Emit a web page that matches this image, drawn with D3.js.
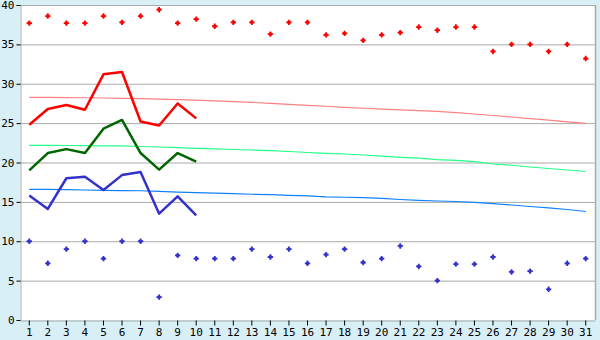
<!DOCTYPE html>
<html><head><meta charset="utf-8">
<script src="https://cdn.jsdelivr.net/npm/d3@7"></script>
<style>body{margin:0;background:#d9eff6;}svg{display:block;}</style>
</head><body>
<svg id="c" width="600" height="340"></svg>
<script>
const days = d3.range(1, 32);
const yTicks = [0, 5, 10, 15, 20, 25, 30, 35, 40];
const recordHigh = [37.7,38.6,37.7,37.7,38.6,37.8,38.6,39.4,37.7,38.2,37.3,37.8,37.8,36.3,37.8,37.8,36.2,36.4,35.5,36.2,36.5,37.2,36.8,37.2,37.2,34.1,35.0,35.0,34.1,35.0,33.2];
const recordLow = [10.0,7.2,9.0,10.0,7.8,10.0,10.0,2.9,8.2,7.8,7.8,7.8,9.0,8.0,9.0,7.2,8.3,9.0,7.3,7.8,9.4,6.8,5.0,7.1,7.1,8.0,6.1,6.2,3.9,7.2,7.8];
const dailyMax = [24.8,26.8,27.3,26.7,31.2,31.5,25.2,24.7,27.5,25.6];
const dailyMean = [19.0,21.2,21.7,21.2,24.3,25.4,21.2,19.1,21.2,20.1];
const dailyMin = [15.8,14.1,18.0,18.2,16.5,18.4,18.8,13.5,15.7,13.3];
const normalMax = [28.28,28.27,28.24,28.22,28.19,28.15,28.10,28.05,27.99,27.91,27.82,27.73,27.63,27.52,27.39,27.26,27.14,27.01,26.89,26.79,26.69,26.59,26.48,26.34,26.16,25.97,25.78,25.57,25.37,25.17,24.98];
const normalMean = [22.18,22.17,22.16,22.14,22.12,22.10,22.03,21.97,21.89,21.80,21.73,21.65,21.59,21.51,21.40,21.27,21.17,21.08,20.95,20.80,20.66,20.55,20.37,20.28,20.10,19.81,19.65,19.43,19.24,19.05,18.86];
const normalMin = [16.59,16.58,16.56,16.51,16.47,16.44,16.41,16.34,16.25,16.18,16.10,16.04,15.97,15.92,15.83,15.75,15.64,15.59,15.54,15.45,15.30,15.20,15.11,15.05,14.94,14.79,14.60,14.41,14.25,14.03,13.78];

const L = 20, R = 595, T = 5, B = 320;
const svg = d3.select('#c');
const x = d3.scaleBand().domain(days).range([L, R]).padding(0);
const cx = d => x(d) + x.bandwidth() / 2;
const y = d3.scaleLinear().domain([0, 40]).range([B, T]);

svg.append('rect').attr('x', L).attr('y', T).attr('width', R - L).attr('height', B - T).attr('fill', '#fff');

// grid
svg.append('g').selectAll('line').data(yTicks.filter(v => v > 0)).join('line')
  .attr('x1', L).attr('x2', R).attr('y1', d => y(d) + 0.5).attr('y2', d => y(d) + 0.5)
  .attr('stroke', '#aaaaaa').attr('stroke-width', 1);
svg.append('line').attr('x1', R + 0.5).attr('x2', R + 0.5).attr('y1', T).attr('y2', B)
  .attr('stroke', '#aaaaaa').attr('stroke-width', 1.5);

// axes
const fontFam = '"DejaVu Sans Mono", monospace';
const yAxis = svg.append('g').attr('transform', `translate(${L + 0.5},0)`)
  .call(d3.axisLeft(y).tickValues(yTicks).tickSize(4).tickPadding(2));
yAxis.select('.domain').attr('stroke', '#aaaaaa');
yAxis.selectAll('.tick line').attr('stroke', '#000');
yAxis.selectAll('text').attr('font-family', fontFam).attr('font-size', 11).attr('fill', '#000');

const xAxis = svg.append('g').attr('transform', `translate(0,${B + 0.5})`)
  .call(d3.axisBottom(x).tickSize(5).tickPadding(3).tickSizeOuter(0));
xAxis.select('.domain').attr('stroke', '#aaaaaa');
xAxis.selectAll('.tick line').attr('stroke', '#000');
xAxis.selectAll('text').attr('font-family', fontFam).attr('font-size', 11).attr('fill', '#000');

// normals
const lineAll = d3.line().x((d, i) => cx(days[i])).y(d => y(d));
[[normalMax, '#ff8080'], [normalMean, '#22ff88'], [normalMin, '#1080ff']].forEach(([arr, col]) => {
  svg.append('path').attr('d', lineAll(arr)).attr('fill', 'none').attr('stroke', col).attr('stroke-width', 1.2);
});

// daily lines
[[dailyMax, '#ff0000'], [dailyMean, '#006600'], [dailyMin, '#3333cc']].forEach(([arr, col]) => {
  svg.append('path').attr('d', lineAll(arr)).attr('fill', 'none').attr('stroke', col).attr('stroke-width', 2.5).attr('stroke-linejoin', 'round');
});

// records
[[recordHigh, '#ff0000'], [recordLow, '#3333cc']].forEach(([arr, col]) => {
  const g = svg.append('g').selectAll('g').data(arr).join('g')
    .attr('transform', (d, i) => `translate(${cx(days[i])},${y(d)})`);
  g.append('path').attr('d', d3.symbol().type(d3.symbolCross).size(16)).attr('fill', col);
  g.append('path').attr('d', d3.symbol().type(d3.symbolSquare).size(9)).attr('fill', col);
});
</script>
</body></html>
